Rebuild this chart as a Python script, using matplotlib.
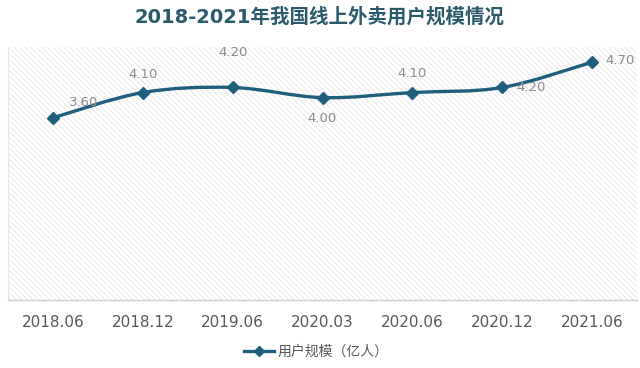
import matplotlib
matplotlib.use("Agg")
import matplotlib.pyplot as plt
from matplotlib.path import Path
from matplotlib.patches import PathPatch, Rectangle
from matplotlib.lines import Line2D
import numpy as np

plt.rcParams['font.family'] = ['DejaVu Sans', 'Noto Sans CJK SC']
plt.rcParams['hatch.linewidth'] = 0.5
plt.rcParams['hatch.color'] = '#e0e0e0'

categories = ['2018.06', '2018.12', '2019.06', '2020.03', '2020.06', '2020.12', '2021.06']
values = [3.60, 4.10, 4.20, 4.00, 4.10, 4.20, 4.70]
value_labels = ['3.60', '4.10', '4.20', '4.00', '4.10', '4.20', '4.70']
series_name = '用户规模（亿人）'
title = '2018-2021年我国线上外卖用户规模情况'

line_color = '#1f5f7e'

fig = plt.figure(figsize=(6.4, 3.68), dpi=100)
ax = fig.add_axes([8/640, 68/368, 629/640, 253/368])
ax.set_xlim(-0.5, len(categories) - 0.5)
ax.set_ylim(0, 5)

# hatched background
bg = Rectangle((0, 0), 1, 1, transform=ax.transAxes, facecolor='white',
               edgecolor='#e0e0e0', hatch='\\\\\\\\\\\\', linewidth=0, zorder=0)
ax.add_patch(bg)

# smooth curve (Catmull-Rom as cubic Bezier) through the data points
x = np.arange(len(values), dtype=float)
y = np.array(values, dtype=float)
verts = [(x[0], y[0])]
codes = [Path.MOVETO]
n = len(x)
for i in range(n - 1):
    p0 = (x[max(i - 1, 0)], y[max(i - 1, 0)])
    p1 = (x[i], y[i])
    p2 = (x[i + 1], y[i + 1])
    p3 = (x[min(i + 2, n - 1)], y[min(i + 2, n - 1)])
    c1 = (p1[0] + (p2[0] - p0[0]) / 6, p1[1] + (p2[1] - p0[1]) / 6)
    c2 = (p2[0] - (p3[0] - p1[0]) / 6, p2[1] - (p3[1] - p1[1]) / 6)
    verts += [c1, c2, p2]
    codes += [Path.CURVE4] * 3
ax.add_patch(PathPatch(Path(verts, codes), facecolor='none', edgecolor=line_color,
                       linewidth=2.4, capstyle='round', zorder=3))
ax.plot(x, y, linestyle='none', marker='D', markersize=6.5, color=line_color, zorder=4)

# data labels (offsets in points)
offsets = [(22, 11), (0, 13), (0, 25), (0, -15), (0, 14), (21, 0), (20, 1)]
for xi, yi, lab, off in zip(x, y, value_labels, offsets):
    ax.annotate(lab, (xi, yi), xytext=off, textcoords='offset points',
                ha='center', va='center', fontsize=9.5, color='#8c8c8c', zorder=5)

ax.set_xticks(x)
ax.set_xticklabels(categories, fontsize=11, color='#595959')
ax.tick_params(axis='x', length=0, pad=11)
ax.set_yticks([])
for s in ['top', 'right']:
    ax.spines[s].set_visible(False)
ax.spines['left'].set_color('#e6e6e6')
ax.spines['bottom'].set_color('#d0d0d0')
ax.spines['bottom'].set_linewidth(1.0)

fig.text(0.5, 1 - 17/368, title, ha='center', va='center', fontsize=14,
         fontweight='bold', color='#2b5a6b', family=['DejaVu Sans', 'Noto Sans CJK SC'])

handle = Line2D([], [], color=line_color, marker='D', markersize=5, linewidth=2.4)
fig.legend([handle], [series_name], loc='center', bbox_to_anchor=(316/640, 1 - 352/368),
           frameon=False, fontsize=10, labelcolor='#595959', handlelength=2.2,
           handletextpad=0.2, prop={'family': ['Noto Sans CJK SC'], 'size': 10})

fig.savefig('out.png', dpi=100)
